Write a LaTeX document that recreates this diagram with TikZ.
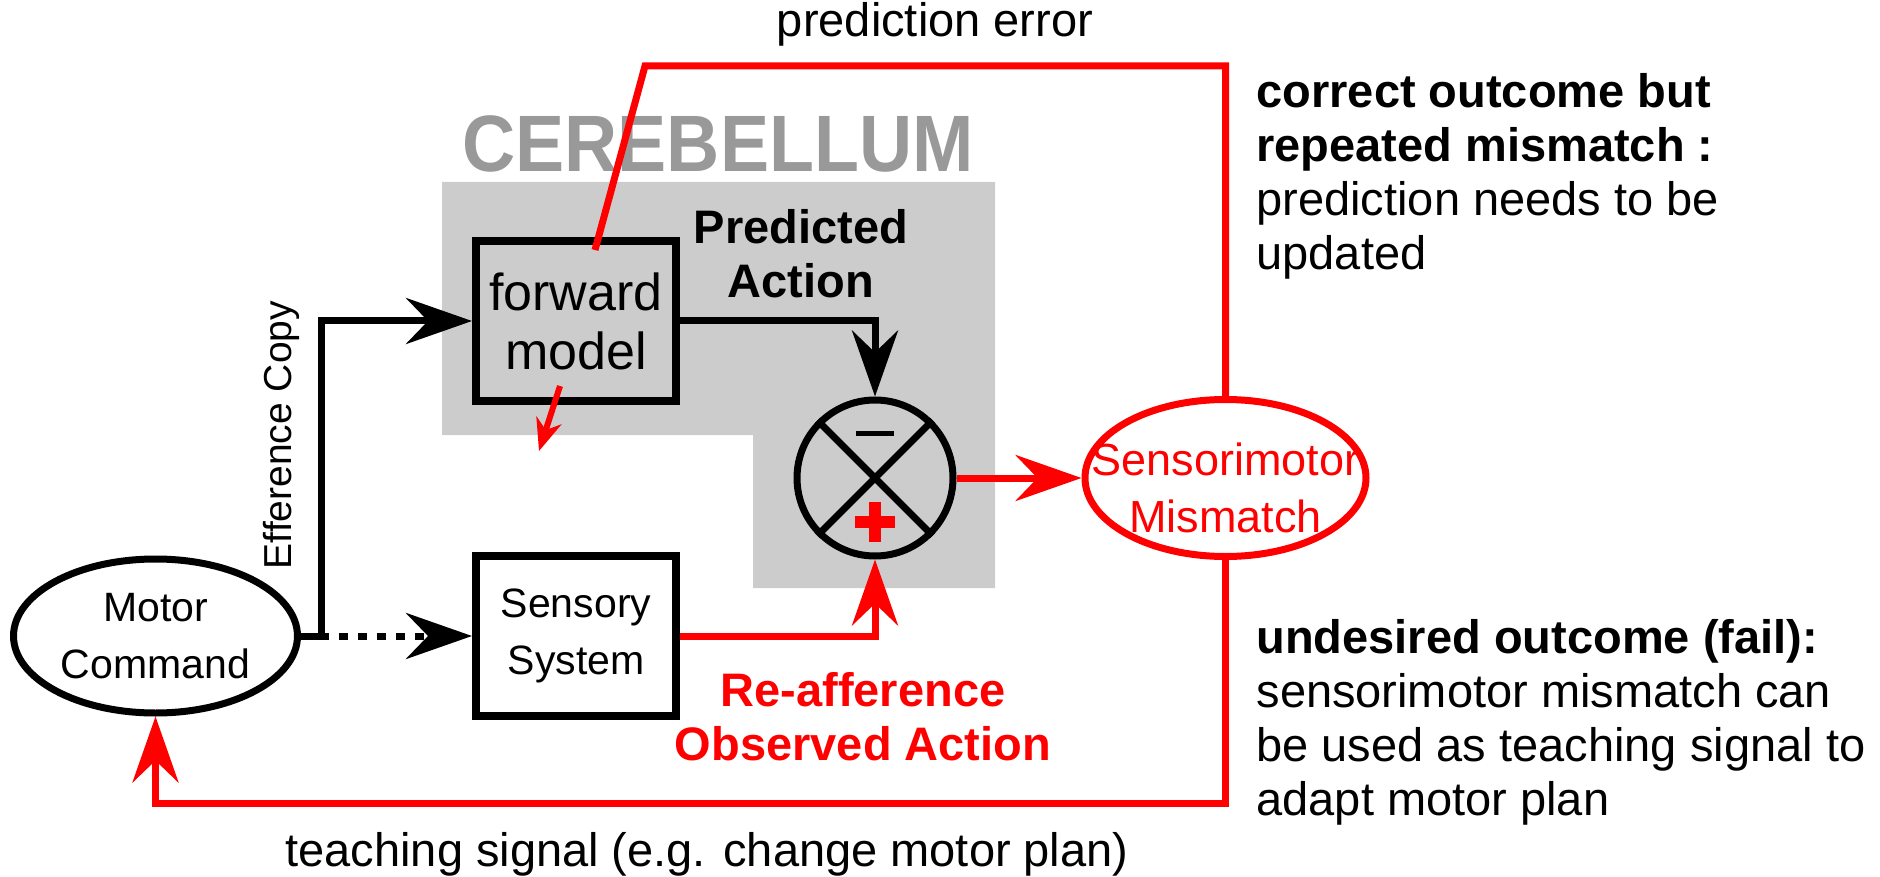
\documentclass[tikz,border=0pt]{standalone}
\usepackage{fontspec}
\setmainfont{Liberation Sans}
\usetikzlibrary{arrows.meta, positioning, calc, shapes.geometric}

\newcommand{\fsmain}{\fontsize{47}{54}\selectfont}
\newcommand{\fssmall}{\fontsize{41}{57}\selectfont}
\newcommand{\fsbox}{\fontsize{52}{59}\selectfont}
\newcommand{\fshead}{\fontsize{80}{90}\selectfont}

\definecolor{cbgray}{HTML}{CCCCCC}
\definecolor{headgray}{HTML}{999999}

\begin{document}
\begin{tikzpicture}[
    x=1pt, y=-1pt,
    font=\fsmain,
    line width=7pt,
    bigtip/.tip={Stealth[length=66pt, width=46pt, inset=22pt]},
    smalltip/.tip={Stealth[length=32pt, width=26pt, inset=10pt]},
    blockbox/.style={draw, rectangle, line width=8pt, minimum width=200pt, minimum height=160pt, align=center, font=\fssmall, inner sep=0pt},
    oval/.style={draw, ellipse, minimum width=284pt, minimum height=154pt, align=center, font=\fssmall, inner sep=0pt},
    sumnode/.style={draw, circle, minimum size=156pt, inner sep=0pt},
    arrow/.style={-{bigtip}, draw=black},
    redarrow/.style={-{bigtip}, color=red},
    dotarrow/.style={-{bigtip}, dash pattern=on 9pt off 10pt},
    note/.style={align=left, anchor=west, inner sep=0pt}
]
\useasboundingbox (0,0) rectangle (1880,877);

% Cerebellum area
\fill[cbgray] (442,182) -- (995,182) -- (995,588) -- (753,588) -- (753,435) -- (442,435) -- cycle;
\node[font=\fshead\bfseries, text=headgray, xscale=0.92, transform shape] (cereb) at (718,144) {CEREBELLUM};

% Blocks
\node[blockbox, font=\fsbox] (forward) at (576,321) {forward\\model};
\node[blockbox, fill=white, below=147pt of forward] (sensory) {Sensory\\System};
\node[oval, left=171pt of sensory] (motor) {Motor\\Command};
\node[sumnode] (comp) at (875,478) {};
\node[oval, draw=red, minimum width=281pt, minimum height=157pt, right=125pt of comp,
      label={[font=\fontsize{45}{57}\selectfont, text=red, align=center, yshift=-10pt]center:Sensorimotor\\Mismatch}] (mismatch) {};

% Comparator signs
\draw (comp.north west) -- (comp.south east);
\draw (comp.north east) -- (comp.south west);
\draw[line width=5pt] ($(comp)+(-19,-45)$) -- ++(38,0);
\draw[red, line width=12pt] ($(comp)+(-20,44)$) -- ++(40,0);
\draw[red, line width=12pt] ($(comp)+(0,24)$) -- ++(0,40);

% Labels
\node[rotate=90, font=\fontsize{39}{44}\selectfont] (effcopy) at (281,435) {Efference Copy};
\node (prederr) at (935,24) {prediction error};
\node[font=\fsmain\bfseries, align=center] (predact) at (801,254) {Predicted\\Action};
\node[font=\fsmain\bfseries, text=red, align=center] (reaff) at (863,717) {Re-afference\\Observed Action};
\node (teachlbl) at (707,854) {teaching signal (e.g. change motor plan)};
\node[note] (correct) at (1253,176) {\textbf{correct outcome but}\\\textbf{repeated mismatch :}\\prediction needs to be\\updated};
\node[note] (undesired) at (1253,722) {\textbf{undesired outcome (fail):}\\sensorimotor mismatch can\\be used as teaching signal to\\adapt motor plan};

% Connections
\draw[dotarrow] (motor.east) -- (sensory.west);
\draw[arrow] (motor.east) -- ++(20,0) |- (forward.west);
\draw[arrow] (forward.east) -| (comp.north);
\draw[redarrow] (sensory.east) -| (comp.south);
\draw[redarrow] (comp.east) -- (mismatch.west);
\draw[redarrow] (mismatch.south) -- ++(0,243) -| (motor.south);

\coordinate (pebend) at (645,66);
\coordinate (peend) at ($(forward.north)+(19,13)$);
\draw[red] (mismatch.north) |- (pebend) -- (peend);
\draw[red, line width=6pt, -{smalltip}] ($(forward.south)+(-16,-19)$) -- ++(-21,65);

\end{tikzpicture}
\end{document}
